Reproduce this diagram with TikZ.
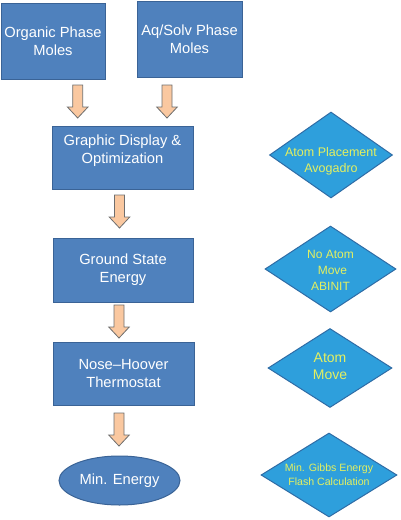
\documentclass[tikz,border=0pt]{standalone}
\usepackage{fontspec}
\setmainfont{Liberation Sans}
\usetikzlibrary{shapes.geometric,calc}
\definecolor{boxfill}{HTML}{4F81BD}
\definecolor{boxline}{HTML}{3A6396}
\definecolor{diafill}{HTML}{2E9FDC}
\definecolor{dialine}{HTML}{2F6CA6}
\definecolor{diatext}{HTML}{E4F060}
\definecolor{arrfill}{HTML}{FAC8A0}
\definecolor{arrline}{HTML}{6E6E6E}
\begin{document}
\begin{tikzpicture}[x=1pt,y=-1pt,
 box/.style={draw=boxline, fill=boxfill, line width=1pt, inner sep=0pt, text=white, align=center, font=\fontsize{14.7}{18}\selectfont},
 btxt/.style={text=white, align=center, inner sep=0pt, font=\fontsize{14.7}{18}\selectfont},
 dia/.style={diamond, draw=dialine, fill=diafill, line width=1pt, inner sep=0pt},
 diatxt/.style={text=diatext, align=center, inner sep=0pt},
 fat/.style={draw=arrline, fill=arrfill, line width=0.8pt, line join=miter,
   to path={let \p1=(\tikztostart), \p2=(\tikztotarget) in
   (\x1-5pt,\y1) -- (\x1+5pt,\y1) -- (\x1+5pt,\y2+11pt) -- (\x1+10.3pt,\y2+11pt)
   -- (\x1,\y2) -- (\x1-10.3pt,\y2+11pt) -- (\x1-5pt,\y2+11pt) -- cycle}}]
\useasboundingbox (0,0) rectangle (400,520);
% boxes
\node[box, minimum width=104, minimum height=76] (b1) at (53,41) {Organic Phase\\Moles};
\node[box, minimum width=105, minimum height=76] (b2) at (189.5,39) {Aq/Solv Phase\\Moles};
\node[box, minimum width=141, minimum height=63] (b3) at (122.5,157.5) {};
\node[btxt] (b3t) at (122.5,151) {Graphic Display \&\\Optimization};
\node[box, minimum width=140, minimum height=64] (b4) at (123,270) {Ground State\\Energy};
\node[box, minimum width=141, minimum height=63] (b5) at (123.5,373.5) {Nose--Hoover\\Thermostat};
\node[box, ellipse, minimum width=121, minimum height=49] (e1) at (119.5,480.5) {Min. Energy};
% diamonds
\node[dia, minimum width=123, minimum height=86] (d1) at (331,155) {};
\node[diatxt, font=\fontsize{12.5}{16}\selectfont] (d1t) at (331,161) {Atom Placement\\Avogadro};
\node[dia, minimum width=131, minimum height=86] (d2) at (330.5,269) {};
\node[diatxt, font=\fontsize{12}{16}\selectfont] (d2t) at (330.5,270) {No Atom\\\hspace{4pt}Move\\ABINIT\hspace{4pt}};
\node[dia, minimum width=124, minimum height=79] (d3) at (330,368) {};
\node[diatxt, font=\fontsize{14}{17}\selectfont] (d3t) at (330,366) {Atom\\Move};
\node[dia, minimum width=136, minimum height=84] (d4) at (329,475) {};
\node[diatxt, font=\fontsize{10.6}{14}\selectfont] (d4t) at (329,475) {Min. Gibbs Energy\\Flash Calculation};
% arrows
\coordinate (a1s) at (77.7,85);  \coordinate (a1e) at (77.7,118);
\coordinate (a2s) at (167,85);   \coordinate (a2e) at (167,118);
\coordinate (a3s) at (119.5,195);\coordinate (a3e) at (119.5,228);
\coordinate (a4s) at (119,305);  \coordinate (a4e) at (119,338);
\coordinate (a5s) at (119,413);  \coordinate (a5e) at (119,446);
\draw[fat] (a1s) to (a1e);
\draw[fat] (a2s) to (a2e);
\draw[fat] (a3s) to (a3e);
\draw[fat] (a4s) to (a4e);
\draw[fat] (a5s) to (a5e);
\end{tikzpicture}
\end{document}
